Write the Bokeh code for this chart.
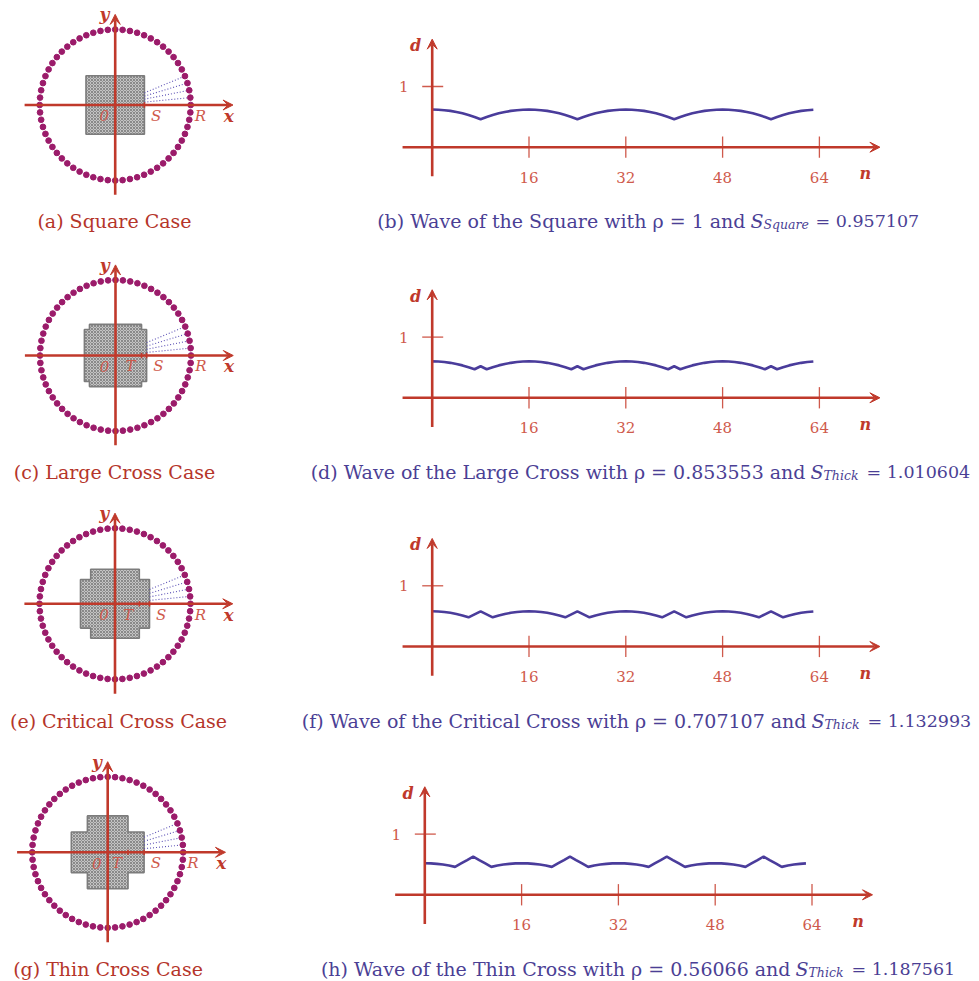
import math
from bokeh.plotting import figure
from bokeh.layouts import column, row
from bokeh.models import Arrow, VeeHead
from bokeh.embed import file_html
from bokeh.resources import INLINE
from bokeh.core.properties import value

# ---------------- data ----------------
n_values = list(range(64))
d_square = [0.620, 0.617, 0.610, 0.598, 0.580, 0.558, 0.530, 0.497, 0.460, 0.497, 0.530, 0.558, 0.580, 0.598, 0.610, 0.617,
            0.620, 0.617, 0.610, 0.598, 0.580, 0.558, 0.530, 0.497, 0.460, 0.497, 0.530, 0.558, 0.580, 0.598, 0.610, 0.617,
            0.620, 0.617, 0.610, 0.598, 0.580, 0.558, 0.530, 0.497, 0.460, 0.497, 0.530, 0.558, 0.580, 0.598, 0.610, 0.617,
            0.620, 0.617, 0.610, 0.598, 0.580, 0.558, 0.530, 0.497, 0.460, 0.497, 0.530, 0.558, 0.580, 0.598, 0.610, 0.617]
d_large = [0.600, 0.597, 0.589, 0.576, 0.558, 0.534, 0.504, 0.470, 0.520, 0.470, 0.504, 0.534, 0.558, 0.576, 0.589, 0.597,
           0.600, 0.597, 0.589, 0.576, 0.558, 0.534, 0.504, 0.470, 0.520, 0.470, 0.504, 0.534, 0.558, 0.576, 0.589, 0.597,
           0.600, 0.597, 0.589, 0.576, 0.558, 0.534, 0.504, 0.470, 0.520, 0.470, 0.504, 0.534, 0.558, 0.576, 0.589, 0.597,
           0.600, 0.597, 0.589, 0.576, 0.558, 0.534, 0.504, 0.470, 0.520, 0.470, 0.504, 0.534, 0.558, 0.576, 0.589, 0.597]
d_critical = [0.580, 0.577, 0.569, 0.555, 0.536, 0.511, 0.480, 0.530, 0.580, 0.530, 0.480, 0.511, 0.536, 0.555, 0.569, 0.577,
              0.580, 0.577, 0.569, 0.555, 0.536, 0.511, 0.480, 0.530, 0.580, 0.530, 0.480, 0.511, 0.536, 0.555, 0.569, 0.577,
              0.580, 0.577, 0.569, 0.555, 0.536, 0.511, 0.480, 0.530, 0.580, 0.530, 0.480, 0.511, 0.536, 0.555, 0.569, 0.577,
              0.580, 0.577, 0.569, 0.555, 0.536, 0.511, 0.480, 0.530, 0.580, 0.530, 0.480, 0.511, 0.536, 0.555, 0.569, 0.577]
d_thin = [0.520, 0.518, 0.510, 0.498, 0.482, 0.460, 0.517, 0.573, 0.630, 0.573, 0.517, 0.460, 0.482, 0.498, 0.510, 0.518,
          0.520, 0.518, 0.510, 0.498, 0.482, 0.460, 0.517, 0.573, 0.630, 0.573, 0.517, 0.460, 0.482, 0.498, 0.510, 0.518,
          0.520, 0.518, 0.510, 0.498, 0.482, 0.460, 0.517, 0.573, 0.630, 0.573, 0.517, 0.460, 0.482, 0.498, 0.510, 0.518,
          0.520, 0.518, 0.510, 0.498, 0.482, 0.460, 0.517, 0.573, 0.630, 0.573, 0.517, 0.460, 0.482, 0.498, 0.510, 0.518]
wave_series = [d_square, d_large, d_critical, d_thin]
wave_ticks = [16, 32, 48, 64]
wave_tick_labels = ["16", "32", "48", "64"]
d_tick = 1
d_tick_label = "1"

# diagram data (circle radius R = 1)
n_dots = 64
shape_outer = [0.387, 0.412, 0.457, 0.482]   # S : half width of the wide arm
shape_inner = [0.387, 0.345, 0.322, 0.269]   # T : half width of the narrow arm
has_T = [False, True, True, True]
ray_count = 4

left_captions = ["(a) Square Case", "(c) Large Cross Case", "(e) Critical Cross Case", "(g) Thin Cross Case"]
cap_prefix = ["(b) Wave of the Square with \u03c1 = 1 and",
              "(d) Wave of the Large Cross with \u03c1 = 0.853553 and",
              "(f) Wave of the Critical Cross with \u03c1 = 0.707107 and",
              "(h) Wave of the Thin Cross with \u03c1 = 0.56066 and"]
cap_sub = ["Square", "Thick", "Thick", "Thick"]
cap_value = ["= 0.957107", "= 1.010604", "= 1.132993", "= 1.187561"]

# ---------------- layout (page pixels) ----------------
FONT = value("DejaVu Serif")
RED = "#c0392b"
RED_LIGHT = "#cf5a4c"
DOT = "#9b1b6a"
WAVE = "#4a3c9b"
CAP_L = "#b5352a"
CAP_R = "#4b3f95"

ROW_TOPS = [0, 249, 498, 747]
ROW_H = [249, 249, 249, 234]
LEFT_W, RIGHT_W = 250, 729
LEFT_CENTERS = [(114.7, 104.5), (115.0, 355.0), (114.5, 603.3), (107.2, 851.8)]
RIGHT_ORIGINS = [(431.7, 146.7), (431.7, 397.3), (431.7, 646.0), (424.3, 894.3)]
CAP_Y = [220, 471, 720, 968]
LEFT_CAP_X = [114, 114, 118, 107.5]
S_X = [750.0, 810.0, 811.0, 795.0]
SUB_X = [763.0, 823.0, 824.0, 808.0]
EQ_X = [815.0, 866.0, 867.0, 851.0]
PX_R = 75.5
PX_N, PX_D = 6.05, 60.7
CAP_SIZE = "19px"


def txt(p, x, y, s, size, color, style="normal", align="center", baseline="middle"):
    p.text(x=[x], y=[y], text=[s], text_font=FONT, text_font_size=size, text_color=color,
           text_font_style=style, text_align=align, text_baseline=baseline)


def base_fig(w, h, xr, yr):
    p = figure(width=w, height=h, x_range=xr, y_range=yr, output_backend="svg",
               toolbar_location=None, x_axis_type=None, y_axis_type=None, min_border=0,
               outline_line_color=None, background_fill_color="white", border_fill_color="white")
    p.grid.visible = False
    return p


def arrow(p, x0, y0, x1, y1, w=2.6):
    p.add_layout(Arrow(end=VeeHead(size=10, fill_color=RED, line_color=RED, line_width=1),
                       x_start=x0, y_start=y0, x_end=x1, y_end=y1, line_color=RED, line_width=w))


def left_panel(i):
    cx, cy = LEFT_CENTERS[i]
    top, h = ROW_TOPS[i], ROW_H[i]
    xr = ((0 - cx) / PX_R, (LEFT_W - cx) / PX_R)
    yr = (-(top + h - cy) / PX_R, (cy - top) / PX_R)
    p = base_fig(LEFT_W, h, xr, yr)
    a, b = shape_outer[i], shape_inner[i]
    xs = [a, a, b, b, -b, -b, -a, -a, -b, -b, b, b]
    ys = [-b, b, b, a, a, b, b, -b, -b, -a, -a, -b]
    p.patch(xs, ys, fill_color="#c4c4c4", line_color="#7c7c7c", line_width=1.6,
            hatch_pattern="diagonal_cross", hatch_scale=3, hatch_weight=0.7, hatch_color="#666666", hatch_alpha=0.9)
    # axes
    arrow(p, -1.2, 0, 1.56, 0)
    arrow(p, 0, -1.19, 0, 1.2)
    # rays from the shape to the first circle points
    rx0, ry0, rx1, ry1 = [], [], [], []
    for k in range(1, ray_count + 1):
        th = 2 * math.pi * k / n_dots
        yb = a * math.tan(th)
        if yb <= b:
            sx, sy = a, yb
        else:
            sx, sy = b / math.tan(th), b
        rx0.append(sx); ry0.append(sy)
        rx1.append(math.cos(th)); ry1.append(math.sin(th))
    p.segment(rx0, ry0, rx1, ry1, line_color="#5b50b5", line_width=1.1, line_dash="1 2")
    p.segment([a], [0], [1.0], [0], line_color="#5b50b5", line_width=1.1, line_dash="1 2")
    # ticks at T and S
    tick_x = [a] + ([b] if has_T[i] else [])
    p.segment(tick_x, [-0.035] * len(tick_x), tick_x, [0.035] * len(tick_x), line_color=RED, line_width=1.5)
    # dots
    ang = [2 * math.pi * k / n_dots for k in range(n_dots)]
    p.scatter([math.cos(t) for t in ang], [math.sin(t) for t in ang], size=5.7, color=DOT)
    # labels
    off = 10.7 / PX_R
    txt(p, -0.146, -off, "0", "15px", RED_LIGHT, "italic")
    if has_T[i]:
        txt(p, b - 0.145, -off, "T", "15px", RED_LIGHT, "italic")
    txt(p, a + 0.155, -off, "S", "15px", RED_LIGHT, "italic")
    txt(p, 1.13, -off, "R", "15px", RED_LIGHT, "italic")
    txt(p, 1.505, -off, "x", "17px", RED, "bold italic")
    txt(p, -off, 1.2, "y", "17px", RED, "bold italic")
    txt(p, (LEFT_CAP_X[i] - cx) / PX_R, (cy - CAP_Y[i]) / PX_R, left_captions[i], CAP_SIZE, CAP_L)
    return p


def right_panel(i):
    ox, oy = RIGHT_ORIGINS[i]
    top, h = ROW_TOPS[i], ROW_H[i]
    xr = ((LEFT_W - ox) / PX_N, (LEFT_W + RIGHT_W - ox) / PX_N)
    yr = (-(top + h - oy) / PX_D, (oy - top) / PX_D)
    p = base_fig(RIGHT_W, h, xr, yr)
    arrow(p, -4.9, 0, 74.0, 0)
    arrow(p, 0, -0.48, 0, 1.78)
    p.segment(wave_ticks, [-0.175] * 4, wave_ticks, [0.176] * 4, line_color=RED_LIGHT, line_width=1.3)
    p.segment([-1.65], [d_tick], [1.82], [d_tick], line_color=RED_LIGHT, line_width=1.3)
    for t, lab in zip(wave_ticks, wave_tick_labels):
        txt(p, t, -0.494, lab, "15px", RED_LIGHT)
    txt(p, -4.7, d_tick, d_tick_label, "15px", RED_LIGHT)
    txt(p, -2.76, 1.675, "d", "16px", RED, "bold italic")
    txt(p, 71.6, -0.44, "n", "16px", RED, "bold italic")
    p.line(n_values, wave_series[i], line_color=WAVE, line_width=2.6)
    # caption

    def X(px):
        return (px - ox) / PX_N
    yc = (oy - CAP_Y[i]) / PX_D
    ysub = (oy - CAP_Y[i] - 4) / PX_D
    txt(p, X(S_X[i] - 5), yc, cap_prefix[i], CAP_SIZE, CAP_R, align="right")
    txt(p, X(S_X[i]), yc, "S", CAP_SIZE, CAP_R, "italic", align="left")
    txt(p, X(SUB_X[i]), ysub, cap_sub[i], "12.5px", CAP_R, "italic", align="left")
    txt(p, X(EQ_X[i]), yc, cap_value[i], "17.5px", CAP_R, align="left")
    return p


rows = [row(left_panel(i), right_panel(i)) for i in range(4)]
layout = column(*rows)
open("out.html", "w").write(file_html(layout, INLINE))
